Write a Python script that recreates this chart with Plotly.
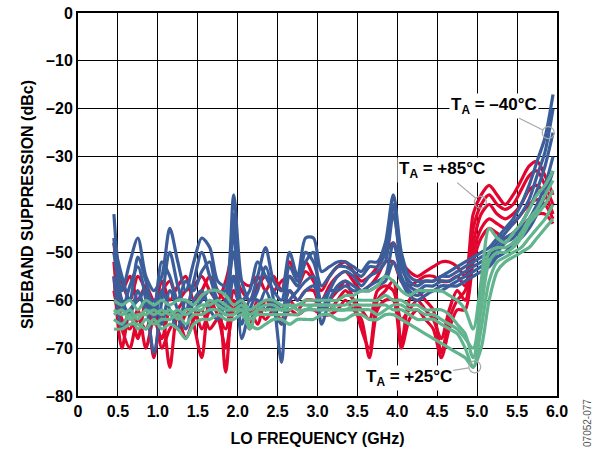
import plotly.graph_objects as go

# LO frequency sample points (GHz)
FREQ = [0.45, 0.55, 0.65, 0.75, 0.85, 0.95, 1.05, 1.15, 1.25, 1.35,
        1.45, 1.55, 1.65, 1.75, 1.85, 1.95, 2.05, 2.15, 2.25, 2.35,
        2.45, 2.55, 2.65, 2.75, 2.85, 2.95, 3.05, 3.15, 3.25, 3.35,
        3.45, 3.55, 3.65, 3.75, 3.85, 3.95, 4.05, 4.15, 4.25, 4.35,
        4.45, 4.55, 4.65, 4.75, 4.85, 4.95, 5.05, 5.15, 5.25, 5.35,
        5.45, 5.55, 5.65, 5.75, 5.85, 5.95]

# TA = +85C (red)
HOT_1 = [-48, -58, -55, -60, -57, -60, -58, -56, -60, -58,
         -57, -55, -58, -60, -56, -50, -56, -57, -55, -58,
         -55, -58, -52, -55, -52, -55, -58, -55, -53, -52,
         -54, -56, -55, -53, -50, -48, -52, -54, -55, -54,
         -53, -52, -52, -53, -55, -42, -38, -36, -38, -40,
         -38, -35, -32, -31, -34, -38]
HOT_2 = [-55, -70, -62, -68, -60, -72, -62, -74, -62, -60,
         -65, -72, -60, -63, -66, -58, -62, -65, -60, -62,
         -60, -62, -58, -60, -58, -58, -62, -60, -58, -56,
         -60, -66, -70, -60, -58, -56, -69, -60, -58, -60,
         -62, -71, -64, -60, -58, -48, -42, -40, -42, -43,
         -42, -40, -37, -36, -38, -42]
HOT_3 = [-52, -64, -66, -62, -70, -64, -68, -62, -66, -63,
         -62, -66, -62, -60, -75, -60, -63, -62, -65, -60,
         -62, -64, -60, -62, -60, -60, -61, -62, -60, -58,
         -60, -62, -64, -58, -57, -58, -64, -62, -60, -62,
         -64, -68, -62, -58, -60, -50, -45, -43, -44, -45,
         -44, -42, -40, -39, -40, -43]
HOT_4 = [-50, -56, -60, -55, -58, -62, -56, -60, -57, -55,
         -60, -58, -55, -58, -60, -55, -58, -60, -57, -55,
         -58, -56, -55, -57, -54, -56, -60, -57, -55, -54,
         -56, -58, -57, -55, -52, -52, -56, -57, -56, -55,
         -55, -56, -56, -55, -57, -45, -40, -38, -40, -41,
         -40, -37, -34, -33, -36, -40]
HOT_5 = [-58, -66, -70, -64, -66, -62, -70, -66, -64, -68,
         -64, -62, -66, -64, -70, -62, -60, -66, -62, -64,
         -62, -65, -62, -63, -62, -62, -63, -63, -62, -60,
         -62, -64, -72, -62, -60, -60, -70, -64, -62, -64,
         -66, -72, -66, -62, -62, -52, -47, -45, -46, -47,
         -46, -45, -43, -42, -42, -44]

# TA = -40C (blue)
COLD_1 = [-42, -58, -52, -47, -55, -58, -55, -45, -52, -58,
          -52, -47, -49, -56, -57, -38, -56, -60, -55, -49,
          -56, -58, -50, -55, -47, -47, -54, -53, -52, -52,
          -53, -54, -52, -52, -48, -38, -50, -55, -56, -56,
          -56, -55, -54, -53, -52, -51, -50, -49, -47, -45,
          -43, -40, -36, -31, -26, -17]
COLD_2 = [-47, -62, -57, -53, -60, -71, -60, -50, -57, -62,
          -56, -50, -55, -60, -62, -45, -68, -62, -58, -53,
          -60, -73, -55, -57, -52, -50, -62, -58, -55, -54,
          -55, -57, -55, -54, -52, -42, -52, -57, -58, -57,
          -57, -56, -56, -55, -54, -53, -52, -51, -49, -47,
          -46, -44, -41, -37, -32, -25]
COLD_3 = [-50, -60, -63, -58, -62, -60, -65, -58, -62, -66,
          -60, -58, -62, -64, -60, -50, -62, -64, -62, -58,
          -62, -65, -60, -58, -56, -55, -65, -60, -57, -56,
          -57, -58, -57, -56, -55, -48, -55, -58, -59, -58,
          -58, -57, -57, -57, -56, -55, -54, -53, -51, -50,
          -48, -47, -45, -42, -38, -33]
COLD_4 = [-48, -55, -60, -51, -56, -62, -52, -55, -60, -56,
          -58, -54, -52, -58, -58, -42, -60, -58, -52, -55,
          -58, -60, -53, -56, -50, -52, -57, -55, -53, -53,
          -54, -55, -53, -53, -50, -40, -53, -56, -57, -56,
          -56, -55, -55, -54, -53, -52, -51, -50, -48, -46,
          -44, -42, -39, -34, -29, -20]
COLD_5 = [-55, -66, -62, -60, -58, -64, -58, -62, -66, -60,
          -62, -60, -58, -61, -63, -55, -65, -60, -60, -62,
          -60, -62, -58, -60, -58, -57, -60, -58, -58, -57,
          -58, -58, -58, -57, -56, -52, -56, -59, -60, -59,
          -58, -58, -57, -56, -55, -54, -53, -52, -50, -48,
          -47, -45, -43, -40, -36, -30]

# TA = +25C (green)
ROOM_1 = [-60, -61, -60, -62, -60, -61, -60, -61, -60, -60,
          -61, -59, -58, -58, -59, -61, -60, -62, -61, -60,
          -60, -61, -61, -61, -60, -60, -60, -60, -60, -59,
          -59, -58, -58, -57, -55, -56, -58, -59, -58, -58,
          -58, -58, -59, -60, -62, -66, -56, -45, -47, -48,
          -46, -44, -41, -38, -36, -33]
ROOM_2 = [-62, -63, -62, -64, -62, -63, -62, -63, -62, -63,
          -62, -61, -61, -60, -61, -62, -61, -63, -62, -62,
          -62, -62, -62, -61, -61, -61, -61, -61, -61, -61,
          -60, -60, -60, -60, -59, -60, -60, -61, -61, -62,
          -62, -62, -63, -65, -67, -72, -62, -52, -50, -50,
          -49, -47, -44, -42, -40, -37]
ROOM_3 = [-64, -65, -63, -66, -64, -65, -64, -64, -63, -65,
          -63, -63, -62, -62, -63, -63, -62, -64, -63, -63,
          -63, -63, -63, -63, -62, -62, -62, -62, -62, -62,
          -61, -61, -61, -61, -61, -62, -62, -63, -64, -64,
          -64, -65, -66, -67, -70, -74, -66, -56, -52, -51,
          -50, -49, -47, -45, -43, -40]
ROOM_4 = [-66, -66, -65, -65, -66, -64, -66, -65, -66, -68,
          -65, -64, -64, -63, -64, -64, -63, -65, -66, -65,
          -64, -64, -65, -64, -64, -64, -63, -63, -64, -64,
          -63, -63, -64, -64, -63, -63, -64, -65, -66, -67,
          -68, -69, -70, -71, -72, -74, -70, -60, -54, -52,
          -51, -50, -49, -47, -45, -43]
ROOM_5 = [-63, -62, -64, -63, -63, -62, -63, -62, -64, -62,
          -62, -62, -60, -61, -62, -62, -62, -66, -62, -61,
          -61, -62, -61, -62, -62, -61, -61, -61, -62, -62,
          -62, -62, -62, -63, -62, -61, -61, -62, -62, -63,
          -63, -64, -65, -66, -68, -70, -60, -50, -49, -49,
          -48, -46, -43, -41, -38, -35]

X_TICKS = [0, 0.5, 1.0, 1.5, 2.0, 2.5, 3.0, 3.5, 4.0, 4.5, 5.0, 5.5, 6.0]
X_LABELS = ["0", "0.5", "1.0", "1.5", "2.0", "2.5", "3.0", "3.5", "4.0", "4.5", "5.0", "5.5", "6.0"]
Y_TICKS = [0, -10, -20, -30, -40, -50, -60, -70, -80]
Y_LABELS = ["0", "\u201310", "\u201320", "\u201330", "\u201340", "\u201350", "\u201360", "\u201370", "\u201380"]

RED = "#E2062F"
BLUE = "#3B5E9B"
GREEN = "#62B48E"
FONT = "Liberation Sans"

fig = go.Figure()

groups = [
    (RED, [HOT_1, HOT_2, HOT_3, HOT_4, HOT_5]),
    (BLUE, [COLD_1, COLD_2, COLD_3, COLD_4, COLD_5]),
    (GREEN, [ROOM_1, ROOM_2, ROOM_3, ROOM_4, ROOM_5]),
]
for color, curves in groups:
    for yy in curves:
        fig.add_trace(go.Scatter(
            x=FREQ, y=yy, mode="lines",
            line=dict(color=color, width=3.2, shape="spline", smoothing=0.8),
            showlegend=False, hoverinfo="skip",
        ))

# temperature labels with leader lines to the circled curves
labels = [
    ("T<sub>A</sub> = \u201340\u00b0C", 5.89, -25.0, -54, -27),
    ("T<sub>A</sub> = +85\u00b0C", 5.04, -39.5, -38, -32),
    ("T<sub>A</sub> = +25\u00b0C", 4.97, -73.9, -66, 11),
]
for text, px, py, ax, ay in labels:
    fig.add_annotation(
        x=px, y=py, text="<b>" + text + "</b>",
        showarrow=True, arrowhead=0, arrowwidth=1.2, arrowcolor="#A8A8A8",
        ax=ax, ay=ay, standoff=6, bgcolor="white", borderpad=1,
        font=dict(family=FONT, size=17, color="black"),
    )
    fig.add_shape(
        type="circle", xref="x", yref="y", xsizemode="pixel", ysizemode="pixel",
        xanchor=px, yanchor=py, x0=-6, x1=6, y0=-6, y1=6,
        line=dict(color="#A8A8A8", width=1.2),
    )

fig.add_annotation(
    text="07052-077", xref="paper", yref="paper", x=1.065, y=-0.07,
    textangle=-90, showarrow=False, xanchor="center", yanchor="middle",
    font=dict(family=FONT, size=10, color="#555555"),
)

fig.update_layout(
    width=601, height=455,
    margin=dict(l=78, r=44, t=13, b=59, autoexpand=False),
    plot_bgcolor="white", paper_bgcolor="white",
    font=dict(family=FONT, size=16, color="black"),
)
fig.update_xaxes(
    range=[0, 6.0], tickvals=X_TICKS, ticktext=["<b>" + t + "</b>" for t in X_LABELS],
    showgrid=True, gridcolor="black", gridwidth=1.3,
    showline=True, linecolor="black", linewidth=2, mirror=True,
    ticks="", zeroline=False, automargin=False,
    tickfont=dict(family=FONT, size=16, color="black"),
    title=dict(text="<b>LO FREQUENCY (GHz)</b>", font=dict(family=FONT, size=16), standoff=14),
)
fig.update_yaxes(
    range=[-80, 0], tickvals=Y_TICKS, ticktext=["<b>" + t + "</b>" for t in Y_LABELS],
    showgrid=True, gridcolor="black", gridwidth=1.3,
    showline=True, linecolor="black", linewidth=2, mirror=True,
    ticks="", zeroline=False, automargin=False,
    tickfont=dict(family=FONT, size=16, color="black"),
    title=dict(text="<b>SIDEBAND SUPPRESSION (dBc)</b>", font=dict(family=FONT, size=16), standoff=8),
)

# the page body has a default 8px margin; drop it so the figure sits at 0,0
fig.write_html("out.html", config={"displayModeBar": False},
               post_script="document.body.style.margin='0';")
